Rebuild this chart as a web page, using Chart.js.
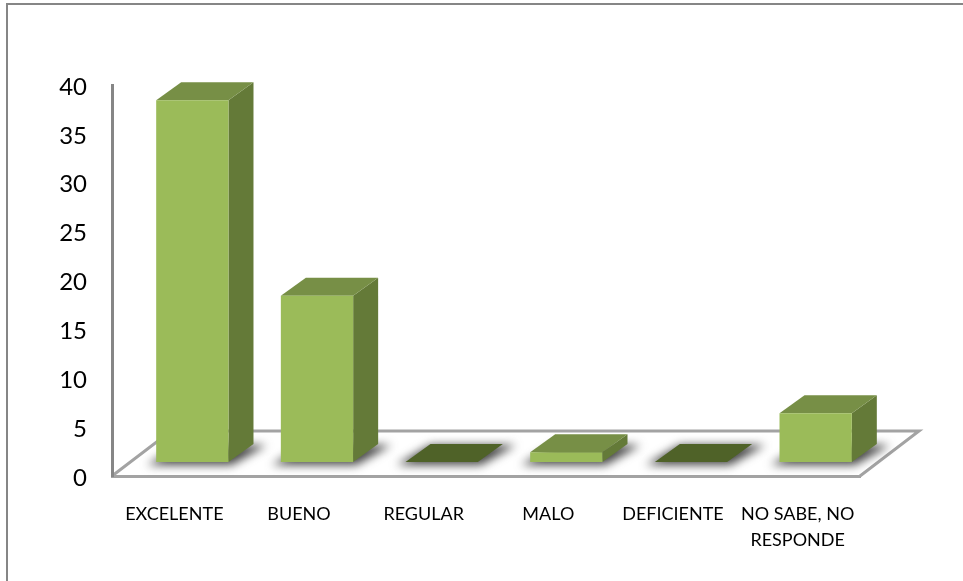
<!DOCTYPE html>
<html>
<head>
<meta charset="utf-8">
<title>Chart</title>
<script src="https://cdn.jsdelivr.net/npm/chart.js@4"></script>
<style>
    html, body { margin: 0; padding: 0; background: #fff; overflow: hidden; }
    #wrap { position: relative; width: 963px; height: 581px; }
    #frame { position: absolute; left: 6px; top: 3px; right: 0; bottom: 0; border-left: 2px solid #868686; border-top: 2px solid #868686; }
</style>
</head>
<body>
<div id="wrap">
    <canvas id="chart" width="963" height="581"></canvas>
    <div id="frame"></div>
</div>
<script>
// Datos
const categories = ['EXCELENTE', 'BUENO', 'REGULAR', 'MALO', 'DEFICIENTE', ['NO SABE, NO', 'RESPONDE']];
const values = [37, 17, 0, 1, 0, 5];
const yTicks = [0, 5, 10, 15, 20, 25, 30, 35, 40];

// Colores
const frontColor = '#9bbb59';
const sideColor = '#647a38';
const topColor = '#778f46';
const emptyColor = '#4f6228';
const axisColor = '#868686';
const floorColor = '#a3a3a3';

// Perspectiva (px)
const floorDepth = { x: 59, y: 45 };
const barOffset = { x: 18, y: 14 };
const barDepth = { x: 25, y: 18 };

function poly(ctx, points, color) {
    ctx.beginPath();
    points.forEach((p, i) => i ? ctx.lineTo(p[0], p[1]) : ctx.moveTo(p[0], p[1]));
    ctx.closePath();
    ctx.fillStyle = color;
    ctx.fill();
}

// Piso, sombras y caras laterales de las barras
const bars3d = {
    id: 'bars3d',
    beforeDraw(chart) {
        const { ctx, chartArea: a } = chart;
        ctx.save();
        ctx.strokeStyle = floorColor;
        ctx.lineWidth = 3;
        ctx.beginPath();
        ctx.moveTo(a.left, a.bottom);
        ctx.lineTo(a.left + floorDepth.x, a.bottom - floorDepth.y);
        ctx.lineTo(a.right + floorDepth.x, a.bottom - floorDepth.y);
        ctx.lineTo(a.right, a.bottom);
        ctx.stroke();
        ctx.restore();
    },
    beforeDatasetDraw(chart, args) {
        const { ctx } = chart;
        const meta = chart.getDatasetMeta(args.index);
        ctx.save();
        ctx.translate(barOffset.x, -barOffset.y);
        const dx = barDepth.x, dy = barDepth.y;
        meta.data.forEach((bar, i) => {
            const l = bar.x - bar.width / 2, r = bar.x + bar.width / 2;
            const t = bar.y, b = bar.base;
            // sombra
            ctx.save();
            ctx.filter = 'blur(5px)';
            poly(ctx, [[l - 9, b + 3], [r + 3, b + 3], [r + dx + 13, b - dy + 1], [l + dx, b - dy + 1]], 'rgba(60,60,60,0.95)');
            ctx.restore();
            if (values[i] === 0) {
                poly(ctx, [[l, b], [r, b], [r + dx, b - dy], [l + dx, b - dy]], emptyColor);
                return;
            }
            poly(ctx, [[r, t], [r + dx, t - dy], [r + dx, b - dy], [r, b]], sideColor);
            poly(ctx, [[l, t], [r, t], [r + dx, t - dy], [l + dx, t - dy]], topColor);
        });
    },
    afterDatasetDraw(chart) {
        chart.ctx.restore();
    }
};

new Chart(document.getElementById('chart'), {
    type: 'bar',
    plugins: [bars3d],
    data: {
        labels: categories,
        datasets: [{
            data: values,
            backgroundColor: frontColor,
            borderWidth: 0,
            barPercentage: 0.58,
            categoryPercentage: 1,
            clip: false
        }]
    },
    options: {
        responsive: false,
        animation: false,
        layout: { padding: { top: 85, right: 103, left: 0, bottom: 0 } },
        plugins: {
            legend: { display: false },
            tooltip: { enabled: false }
        },
        scales: {
            x: {
                grid: { display: false, drawTicks: false },
                border: { color: floorColor, width: 3 },
                afterFit: s => { s.height = 105; },
                ticks: {
                    color: '#000',
                    padding: 26,
                    maxRotation: 0,
                    autoSkip: false,
                    font: { family: 'Lato', size: 18, lineHeight: 1.4 }
                }
            },
            y: {
                min: 0,
                max: 40,
                afterBuildTicks: s => { s.ticks = yTicks.map(v => ({ value: v })); },
                afterFit: s => { s.width = 112; },
                grid: { display: false, drawTicks: false },
                border: { color: axisColor, width: 3 },
                ticks: {
                    color: '#000',
                    padding: 25,
                    labelOffset: 2,
                    font: { family: 'Lato', size: 24 }
                }
            }
        }
    }
});
</script>
</body>
</html>
